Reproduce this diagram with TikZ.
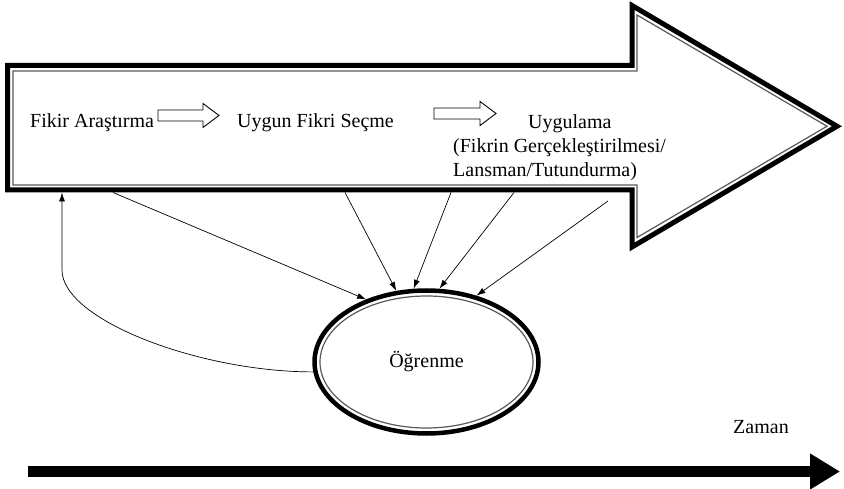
\documentclass[tikz,border=0pt]{standalone}
\usepackage{fontspec}
\setmainfont{Liberation Serif}
\usetikzlibrary{arrows.meta,shapes.geometric}
\begin{document}
\begin{tikzpicture}[x=1pt,y=-1pt,
  txt/.style={font=\fontsize{20}{24}\selectfont, inner sep=0pt, text=black},
  thinline/.style={line width=0.7pt, -{Latex[length=9pt,width=6pt]}},
  hollow/.style={draw=black, line width=0.9pt, fill=white, line join=miter},
  outerborder/.style={draw=black, line width=5pt, line join=miter},
  innerborder/.style={draw=black!65, line width=1.2pt, line join=miter}]
\useasboundingbox (0,0) rectangle (844,489);
% big process arrow
\draw[outerborder] (7.5,65.5) -- (632,65.5) -- (632,5.5) -- (837,126.25) -- (632,247) -- (632,190) -- (7.5,190) -- cycle;
\draw[innerborder] (13,71) -- (637,71) -- (637,15) -- (827,126.25) -- (637,237.5) -- (637,185) -- (13,185) -- cycle;
% texts in the arrow
\node[txt, anchor=base west] (fa) at (30,128) {Fikir Araştırma};
\node[txt, anchor=base west] (us) at (237,128) {Uygun Fikri Seçme};
\node[txt, anchor=north west, align=left] (ug) at (453,114.5) {\hspace*{75pt}Uygulama\\(Fikrin Gerçekleştirilmesi/\\Lansman/Tutundurma)};
% hollow block arrows
\draw[hollow] (158,110) -- (203,110) -- (203,103.5) -- (219,115.5) -- (203,127.5) -- (203,121) -- (158,121) -- cycle;
\draw[hollow] (434,108) -- (480,108) -- (480,101.5) -- (496,113.5) -- (480,125.5) -- (480,119) -- (434,119) -- cycle;
% learning ellipse
\node[ellipse, draw, line width=4.5pt, minimum width=224pt, minimum height=143pt, txt] (ell) at (426.5,362) {Öğrenme};
\draw[innerborder] (ell.center) ellipse [x radius=106.5pt, y radius=66pt];
% connectors
\coordinate (s1) at (113,192.5);
\coordinate (s2) at (345,192.5);
\coordinate (s3) at (451,192.5);
\coordinate (s4) at (514,192.5);
\coordinate (s5) at (608,201);
\coordinate (fb) at (62,192.5);
\draw[thinline] (s1) -- (ell.134);
\draw[thinline] (s2) -- (ell.113);
\draw[thinline] (s3) -- (ell.100);
\draw[thinline] (s4) -- (ell.80);
\draw[thinline] (s5) -- (ell.53);
\draw[thinline] (ell.185) .. controls (200,372) and (62,320) .. (62,270) -- (fb);
% time axis
\coordinate (z0) at (28,471.5);
\coordinate (z1) at (840,471.5);
\draw[line width=11pt, -{Triangle[length=30pt,width=34pt]}] (z0) -- (z1);
\node[txt, anchor=base] (zm) at (761,433) {Zaman};
\end{tikzpicture}
\end{document}
